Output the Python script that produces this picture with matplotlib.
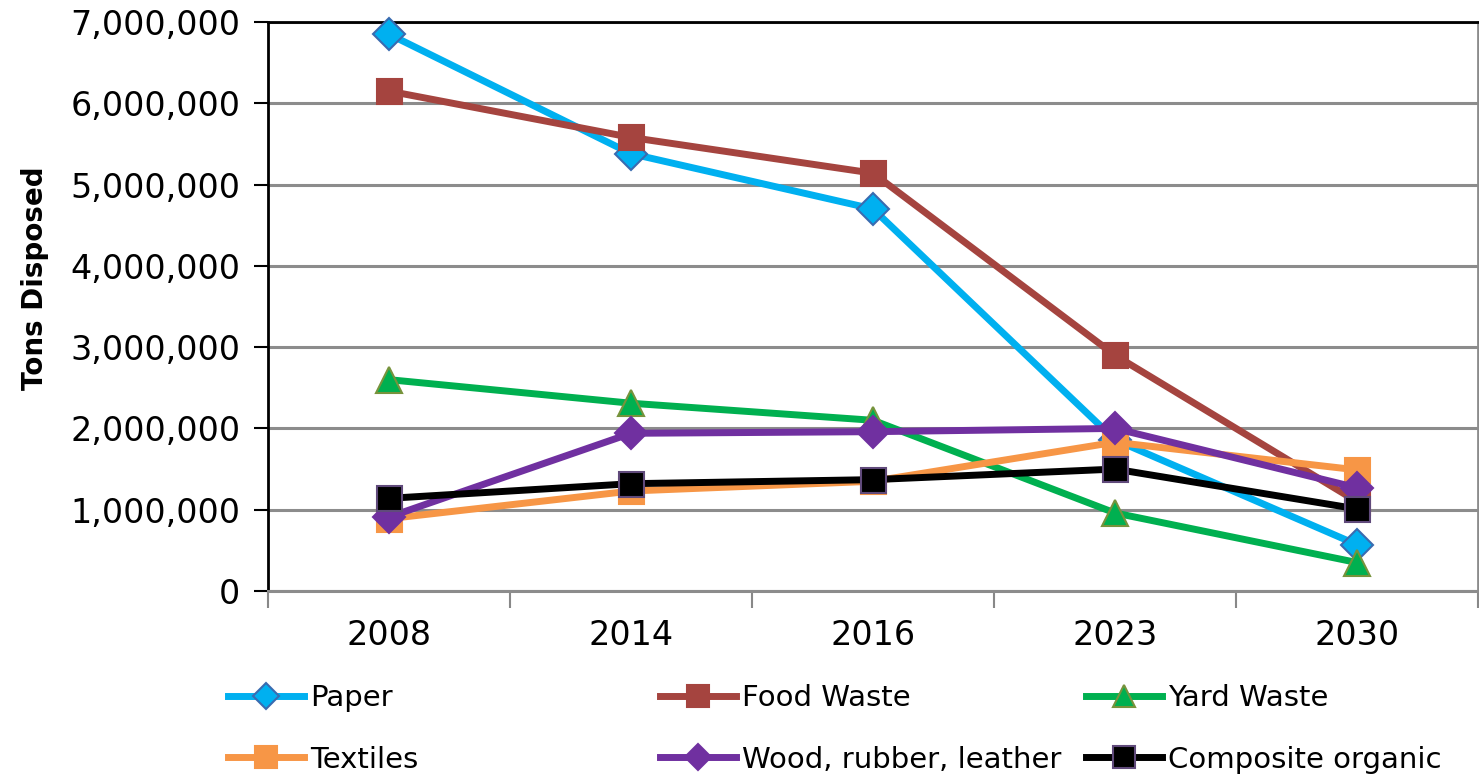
import matplotlib
matplotlib.use("Agg")
import matplotlib.pyplot as plt
from matplotlib.ticker import FuncFormatter, FixedLocator

years = ["2008", "2014", "2016", "2023", "2030"]
paper = [6850000, 5380000, 4700000, 1860000, 570000]
food_waste = [6150000, 5580000, 5140000, 2900000, 1100000]
yard_waste = [2600000, 2310000, 2100000, 960000, 350000]
textiles = [890000, 1230000, 1350000, 1830000, 1490000]
wood_rubber_leather = [910000, 1940000, 1960000, 2000000, 1270000]
composite_organic = [1140000, 1320000, 1370000, 1500000, 1010000]

series = [
    ("Paper", paper, "#00B0F0", "D", "#3A6BB0", 16),
    ("Food Waste", food_waste, "#A5443F", "s", "#A5443F", 18),
    ("Yard Waste", yard_waste, "#00B050", "^", "#77933C", 19),
    ("Textiles", textiles, "#F79646", "s", "#F79646", 18),
    ("Wood, rubber, leather", wood_rubber_leather, "#7030A0", "D", "#7030A0", 16),
    ("Composite organic", composite_organic, "#000000", "s", "#604A7B", 18),
]

W, H = 1479, 776
fig = plt.figure(figsize=(W / 100, H / 100), dpi=100)
ax = fig.add_axes([268 / W, 1 - 591 / H, (1478 - 268) / W, (591 - 22) / H])

x = list(range(len(years)))
handles = []
for i, (name, vals, col, mk, ec, ms) in enumerate(series):
    h, = ax.plot(x, vals, color=col, lw=5, marker=mk, markersize=ms,
                 markerfacecolor=col, markeredgecolor=ec, markeredgewidth=1.5,
                 label=name, zorder=3 + i, clip_on=False)
    handles.append(h)

ax.set_xlim(-0.5, len(years) - 0.5)
ax.set_ylim(0, 7000000)
ax.set_yticks(range(0, 7000001, 1000000))
ax.yaxis.set_major_formatter(FuncFormatter(lambda v, p: f"{int(v):,}"))
ax.set_xticks(x)
ax.set_xticklabels(years)
ax.xaxis.set_minor_locator(FixedLocator([i - 0.5 for i in range(len(years) + 1)]))
ax.tick_params(axis="x", which="major", length=0, pad=20, labelsize=24)
ax.tick_params(axis="x", which="minor", length=12, width=1.5, color="#888888")
ax.tick_params(axis="y", length=10, width=1.5, color="#000000", pad=10, labelsize=24)

ax.grid(axis="y", color="#8C8C8C", lw=2.2, zorder=0)
ax.set_axisbelow(True)
ax.spines["left"].set_color("#000000")
ax.spines["left"].set_linewidth(2)
ax.spines["top"].set_color("#000000")
ax.spines["top"].set_linewidth(2)
ax.spines["bottom"].set_color("#8C8C8C")
ax.spines["bottom"].set_linewidth(2.2)
ax.spines["right"].set_color("#8C8C8C")
ax.spines["right"].set_linewidth(2)

fig.text(35 / W, 1 - 278 / H, "Tons Disposed", rotation=90, fontsize=20,
         fontweight="bold", ha="center", va="center")

col_x = [228, 660, 1086]
for c in range(3):
    hs = [handles[c], handles[c + 3]]
    fig.legend(handles=hs, labels=[h.get_label() for h in hs],
               loc="upper left", bbox_to_anchor=(col_x[c] / W, 1 - 684 / H),
               frameon=False, fontsize=21, handlelength=2.6, handletextpad=0.2,
               labelspacing=1.15, borderpad=0, borderaxespad=0, markerscale=0.85)

fig.savefig("out.png", dpi=100)
